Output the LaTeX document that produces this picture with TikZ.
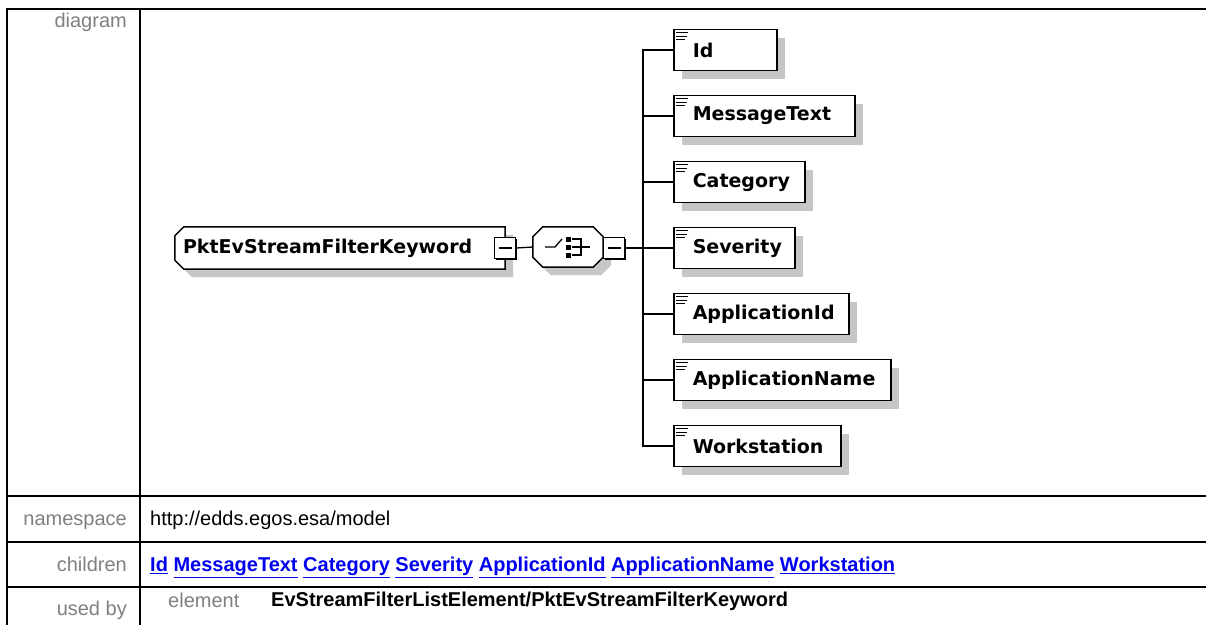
\documentclass[tikz,border=0pt]{standalone}
\usepackage{fontspec}
\setmainfont{Liberation Sans}
\newfontfamily\diafont{DejaVu Sans}
\usetikzlibrary{shadows,backgrounds}

\definecolor{shadowgrey}{RGB}{198,198,198}
\definecolor{labelgrey}{RGB}{128,128,128}
\definecolor{linkblue}{RGB}{0,0,238}

\tikzset{
  dshadow/.style={drop shadow={shadow xshift=8pt,shadow yshift=-8pt,fill=shadowgrey,opacity=1}},
  shadowfill/.style={fill=shadowgrey,transform canvas={xshift=8pt,yshift=-8pt}},
  boxline/.style={draw,line width=1.5pt,fill=white},
  conn/.style={line width=1.3pt},
  tbl/.style={line width=2pt},
  elem/.style={boxline,rectangle,dshadow,minimum height=41pt,inner xsep=19pt,inner ysep=0pt,
    anchor=west,align=left,font=\diafont\bfseries\fontsize{19}{22}\selectfont},
  rootbox/.style={rectangle,minimum height=42pt,inner xsep=8pt,inner ysep=0pt,align=left,
    font=\diafont\bfseries\fontsize{19}{22}\selectfont},
  compbox/.style={rectangle,minimum width=70pt,minimum height=40pt,inner sep=0pt},
  expander/.style={boxline,rectangle,minimum width=21pt,minimum height=21pt,inner sep=0pt,
    drop shadow={shadow xshift=1.5pt,shadow yshift=-1.5pt,fill=black,opacity=1},
    path picture={\draw[line width=1.5pt] ([xshift=4pt]path picture bounding box.west)
      -- ([xshift=-4pt]path picture bounding box.east);}},
  lbl/.style={inner sep=0pt,text=labelgrey,font=\fontsize{20}{24}\selectfont,
    text height=0.72em,text depth=0.21em},
  val/.style={inner sep=0pt,anchor=west,font=\fontsize{20}{24}\selectfont,
    text height=0.72em,text depth=0.21em}
}

\begin{document}
\begin{tikzpicture}[x=1pt,y=-1pt]
  \begin{scope}[on background layer]
    \fill[white] (0,0) rectangle (1206,625);
  \end{scope}
  \useasboundingbox (0,0) rectangle (1206,625);

  % table
  \draw[tbl] (7,625) -- (7,9) -- (1206,9);
  \draw[tbl] (140,9) -- (140,625);
  \foreach \y in {496,542,587}
    \draw[tbl] (7,\y) -- (1206,\y);

  \node[lbl,anchor=east] (lbldiagram) at (127,25) {diagram};
  \node[lbl,anchor=east] (lblnamespace) at (127,523) {namespace};
  \node[lbl,anchor=east] (lblchildren) at (127,569) {children};
  \node[lbl,anchor=east] (lblusedby) at (127,613) {used by};

  \node[val] (namespace) at (150,523) {http://edds.egos.esa/model};
  \node[val,text=linkblue,font=\bfseries\fontsize{20}{24}\selectfont] (children) at (150,569)
    {\underline{Id} \underline{MessageText} \underline{Category} \underline{Severity}
     \underline{ApplicationId} \underline{ApplicationName} \underline{Workstation}};
  \node[val,text=labelgrey] (usedkind) at (168,605) {element};
  \node[val,font=\bfseries\fontsize{20}{24}\selectfont] (usedby) at (271,604)
    {EvStreamFilterListElement/PktEvStreamFilterKeyword};

  % diagram
  \node[rootbox,text width=314pt] (keyword) at (340,248) {PktEvStreamFilterKeyword};
  \node[compbox] (seq) at (568,247) {};
  \begin{scope}[on background layer]
    \foreach \st in {shadowfill,boxline}{
      \path[\st] ([xshift=9pt]keyword.north west) -- (keyword.north east)
        -- (keyword.south east) -- ([xshift=9pt]keyword.south west)
        -- ([yshift=9pt]keyword.south west) -- ([yshift=-9pt]keyword.north west) -- cycle;
      \path[\st] ([xshift=10pt]seq.north west) -- ([xshift=-10pt]seq.north east)
        -- ([yshift=-10pt]seq.north east) -- ([yshift=10pt]seq.south east)
        -- ([xshift=-10pt]seq.south east) -- ([xshift=10pt]seq.south west)
        -- ([yshift=10pt]seq.south west) -- ([yshift=-10pt]seq.north west) -- cycle;
    }
  \end{scope}
  \node[expander] (keywordexp) at (505,248) {};
  \node[expander] (seqexp) at (614,248) {};
  \coordinate (trunk) at (643,248);

  % sequence symbol
  \draw[line width=1.3pt] ([xshift=-23pt]seq.center) -- ++(10,0) -- ++(7,-8);
  \foreach \dy in {-8,0,8}
    \fill ([shift={(-2.5,\dy-2.5)}]seq.center) rectangle ++(5,5);
  \draw[line width=1.3pt] ([shift={(4,-8)}]seq.center) -- ++(9,0) -- ++(0,16) -- ++(-9,0);
  \draw[line width=1.3pt] ([xshift=4pt]seq.center) -- ++(18,0);

  \draw[conn] (keywordexp.east) -- (seq.west);
  \draw[conn] (seqexp.east) -- (trunk);

  \foreach \nm/\txt/\tw [count=\i from 0] in {id/Id/65,msgtext/MessageText/143,
      category/Category/93,severity/Severity/83,appid/ApplicationId/137,
      appname/ApplicationName/179,workstation/Workstation/129}{
    \draw[conn] (trunk) |- (673,50+66*\i);
    \node[elem,text width=\tw pt] (\nm) at (673,50+66*\i) {\txt};
    \draw[line width=1.2pt] ([shift={(3,4)}]\nm.north west) -- ++(12,0);
    \draw[line width=1.2pt] ([shift={(3,7.5)}]\nm.north west) -- ++(11,0);
    \draw[line width=1.2pt] ([shift={(3,11)}]\nm.north west) -- ++(9,0);
  }
\end{tikzpicture}
\end{document}
